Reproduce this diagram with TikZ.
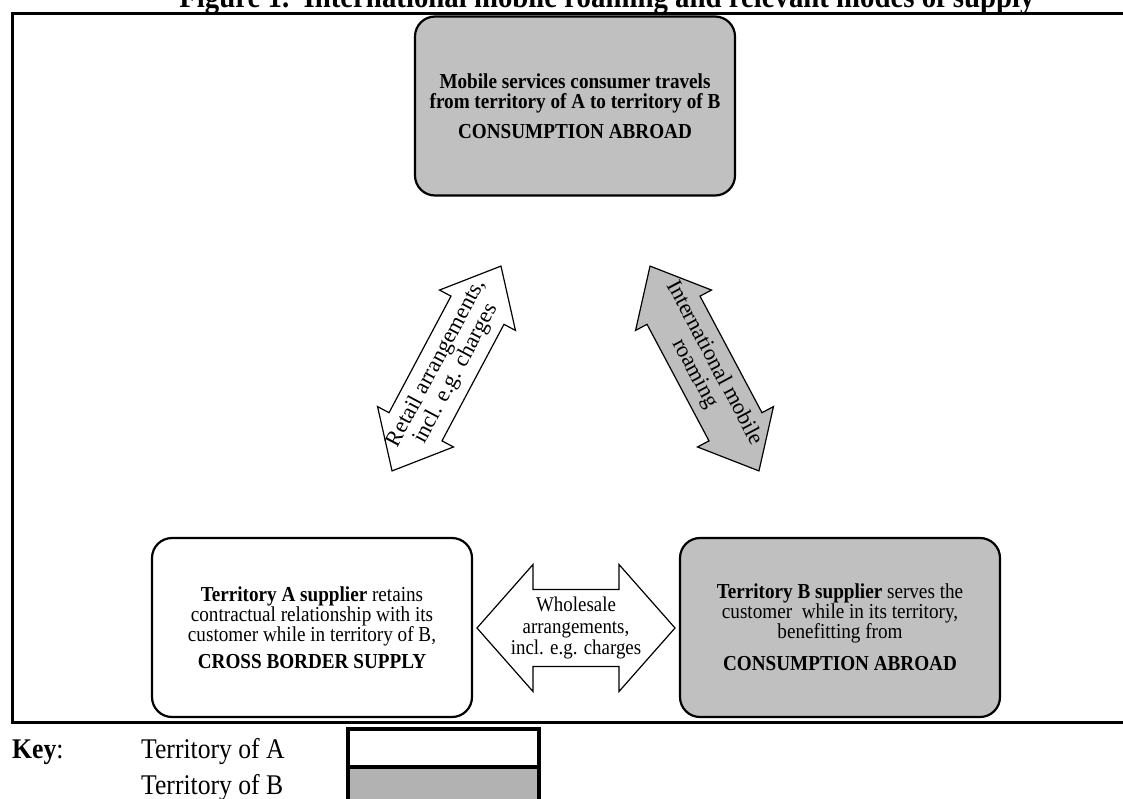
\documentclass[tikz,border=0pt]{standalone}
\usepackage{fontspec}
\setmainfont{Liberation Serif}
\newfontfamily\cfont{Liberation Serif}[FakeStretch=0.9]
\definecolor{boxgray}{HTML}{C0C0C0}
\definecolor{arrowgray}{HTML}{BEBEBE}
\definecolor{keygray}{HTML}{B2B2B2}
\tikzset{
  roundbox/.style={draw=black, line width=2.2pt, rounded corners=20pt, minimum width=320pt, minimum height=179pt, inner sep=0pt, align=center, font=\cfont\fontsize{21.3}{20}\selectfont},
  blockarrow/.style={draw=black, line width=1.2pt, line join=miter},
  diagtext/.style={align=center, inner sep=0pt, font=\fontsize{22.5}{22}\selectfont},
  keytext/.style={anchor=base west, inner sep=0pt, font=\cfont\fontsize{28.5}{30}\selectfont},
}
\begin{document}
\begin{tikzpicture}[x=1pt, y=-1pt]
\useasboundingbox (0,0) rectangle (1123,798);
% title (top cut off)
\node[anchor=base, inner sep=0pt, font=\cfont\fontsize{32}{34}\selectfont\bfseries] (title) at (607,7.5) {Figure 1.\ \ International mobile roaming and relevant modes of supply};
% frame
\draw[line width=3pt] (1140,13) -- (12,13) -- (12,722) -- (1140,722);
% boxes
\node[roundbox, fill=boxgray] (top) at (575,106) {\textbf{Mobile services consumer travels}\\ \textbf{from territory of A to territory of B}\\[10pt] \textbf{CONSUMPTION ABROAD}};
\node[roundbox, fill=white] (left) at (312,627.5) {\textbf{Territory A supplier} retains\\ contractual relationship with its\\ customer while in territory of B,\\[7pt] \textbf{CROSS BORDER SUPPLY}};
\node[roundbox, fill=boxgray] (right) at (840,627.5) {\textbf{Territory B supplier} serves the\\ customer\ \ while in its territory,\\ benefitting from\\[12pt] \textbf{CONSUMPTION ABROAD}};
% horizontal wholesale arrow
\begin{scope}[shift={(576,628)}]
\draw[blockarrow, fill=white] (-99,0) -- (-43,63.5) -- (-43,38.5) -- (43,38.5) -- (43,63.5) -- (99,0) -- (43,-63.5) -- (43,-38.5) -- (-43,-38.5) -- (-43,-63.5) -- cycle;
\end{scope}
\node[align=center, inner sep=0pt, font=\cfont\fontsize{21}{21.5}\selectfont] (whole) at (576,628) {Wholesale\\ arrangements,\\ incl. e.g. charges};
% left diagonal arrow (retail)
\begin{scope}[shift={(446.5,368.5)}, rotate=62]
\draw[blockarrow, fill=white] (-116,0) -- (-66,43) -- (-66,30) -- (66,30) -- (66,43) -- (116,0) -- (66,-43) -- (66,-30) -- (-66,-30) -- (-66,-43) -- cycle;
\end{scope}
\node[diagtext, rotate=62] (retail) at (446.5,368.5) {Retail arrangements,\\ incl. e.g. charges};
% right diagonal arrow (roaming)
\begin{scope}[shift={(704.5,368.5)}, rotate=-62]
\draw[blockarrow, fill=arrowgray] (-116,0) -- (-66,43) -- (-66,30) -- (66,30) -- (66,43) -- (116,0) -- (66,-43) -- (66,-30) -- (-66,-30) -- (-66,-43) -- cycle;
\end{scope}
\node[diagtext, rotate=-62] (roam) at (704.5,368.5) {International mobile\\ roaming};
% key
\node[keytext] (key) at (12,758) {\textbf{Key}:};
\node[keytext] (ka) at (141,758) {Territory of A};
\node[keytext] (kb) at (141,794) {Territory of B};
\draw[line width=3.5pt, fill=white] (348,729) rectangle (539,767);
\draw[line width=3.5pt, fill=keygray] (348,767) rectangle (539,812);
\end{tikzpicture}
\end{document}
